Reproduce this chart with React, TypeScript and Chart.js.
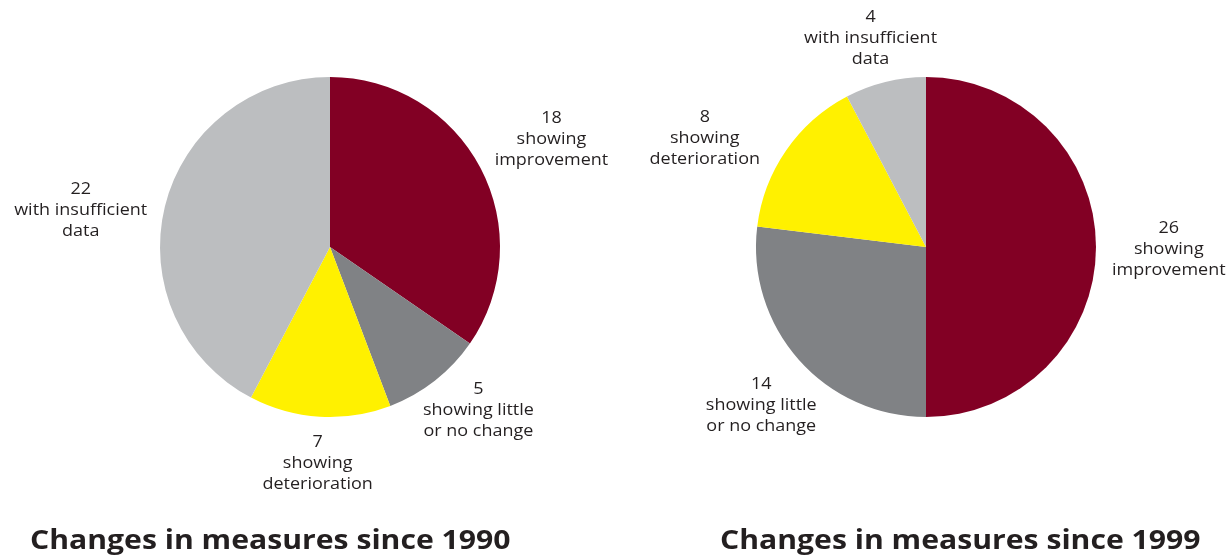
import React, { useEffect, useRef } from "react";
import { Chart, registerables } from "chart.js";

Chart.register(...registerables);

const categories = [
  "showing improvement",
  "showing little or no change",
  "showing deterioration",
  "with insufficient data",
];
const labelLines: string[][] = [
  ["showing", "improvement"],
  ["showing little", "or no change"],
  ["showing", "deterioration"],
  ["with insufficient", "data"],
];
const values1990 = [18, 5, 7, 22];
const values1999 = [26, 14, 8, 4];
const title1990 = "Changes in measures since 1990";
const title1999 = "Changes in measures since 1999";
const colors = ["#820024", "#808285", "#FFF100", "#BCBEC0"];

const nudges1990 = [
  [10, -8],
  [2, -4],
  [2, 3],
  [-8, 15],
];
const nudges1999 = [
  [4, 3],
  [13, 17],
  [-26, 13],
  [4, -1],
];

const TEXT = "#231f20";
const LABEL_FONT = '15.5px "Open Sans", sans-serif';
const LINE_H = 21;
const SX = 1.16;

function scaledText(ctx: CanvasRenderingContext2D, s: string, x: number, y: number) {
  ctx.save();
  ctx.translate(x, y);
  ctx.scale(SX, 1);
  ctx.fillText(s, 0, 0);
  ctx.restore();
}

function makeLabelPlugin(nudges: number[][], title: string, titleX: number) {
  return {
    id: "outerLabels",
    afterDraw(chart: any) {
      const ctx = chart.ctx as CanvasRenderingContext2D;
      const meta = chart.getDatasetMeta(0);
      const data = chart.data.datasets[0].data as number[];
      ctx.save();
      ctx.font = LABEL_FONT;
      ctx.fillStyle = TEXT;
      ctx.textAlign = "center";
      ctx.textBaseline = "middle";
      meta.data.forEach((arc: any, i: number) => {
        const p = arc.getProps(["x", "y", "startAngle", "endAngle", "outerRadius"], true);
        const mid = (p.startAngle + p.endAngle) / 2;
        const dx = Math.cos(mid);
        const dy = Math.sin(mid);
        const lines = [String(data[i]), ...labelLines[i]];
        const w = SX * Math.max(...lines.map((l) => ctx.measureText(l).width));
        const h = lines.length * LINE_H;
        const r = p.outerRadius + 12;
        const cx = p.x + dx * r + dx * (w / 2) + nudges[i][0];
        const cy = p.y + dy * r + dy * (h / 2) + nudges[i][1];
        lines.forEach((l, k) => {
          scaledText(ctx, l, cx, cy - h / 2 + LINE_H / 2 + k * LINE_H);
        });
      });
      ctx.font = 'bold 26px "Open Sans", sans-serif';
      ctx.textAlign = "left";
      ctx.textBaseline = "alphabetic";
      scaledText(ctx, title, titleX, 549);
      ctx.restore();
    },
  };
}

function PieChart(props: {
  values: number[];
  nudges: number[][];
  title: string;
  titleX: number;
  padding: { left: number; right: number; top: number; bottom: number };
  left: number;
}) {
  const ref = useRef<HTMLCanvasElement>(null);
  useEffect(() => {
    if (!ref.current) return;
    const chart = new Chart(ref.current, {
      type: "pie",
      data: {
        labels: categories,
        datasets: [
          {
            data: props.values,
            backgroundColor: colors,
            borderWidth: 0,
          },
        ],
      },
      options: {
        animation: false,
        responsive: false,
        maintainAspectRatio: false,
        layout: { padding: props.padding },
        plugins: {
          legend: { display: false },
          tooltip: { enabled: false },
        },
      },
      plugins: [makeLabelPlugin(props.nudges, props.title, props.titleX)],
    });
    return () => chart.destroy();
  }, []);
  return (
    <canvas
      ref={ref}
      width={616}
      height={557}
      style={{ position: "absolute", left: props.left, top: 0, width: 616, height: 557 }}
    />
  );
}

export default function App() {
  return (
    <div
      style={{
        position: "fixed",
        left: 0,
        top: 0,
        width: 1232,
        height: 557,
        background: "#ffffff",
        overflow: "hidden",
      }}
    >
      <PieChart
        values={values1990}
        nudges={nudges1990}
        title={title1990}
        titleX={30}
        padding={{ left: 160, right: 116, top: 77, bottom: 140 }}
        left={0}
      />
      <PieChart
        values={values1999}
        nudges={nudges1999}
        title={title1999}
        titleX={104}
        padding={{ left: 140, right: 136, top: 77, bottom: 140 }}
        left={616}
      />
    </div>
  );
}
